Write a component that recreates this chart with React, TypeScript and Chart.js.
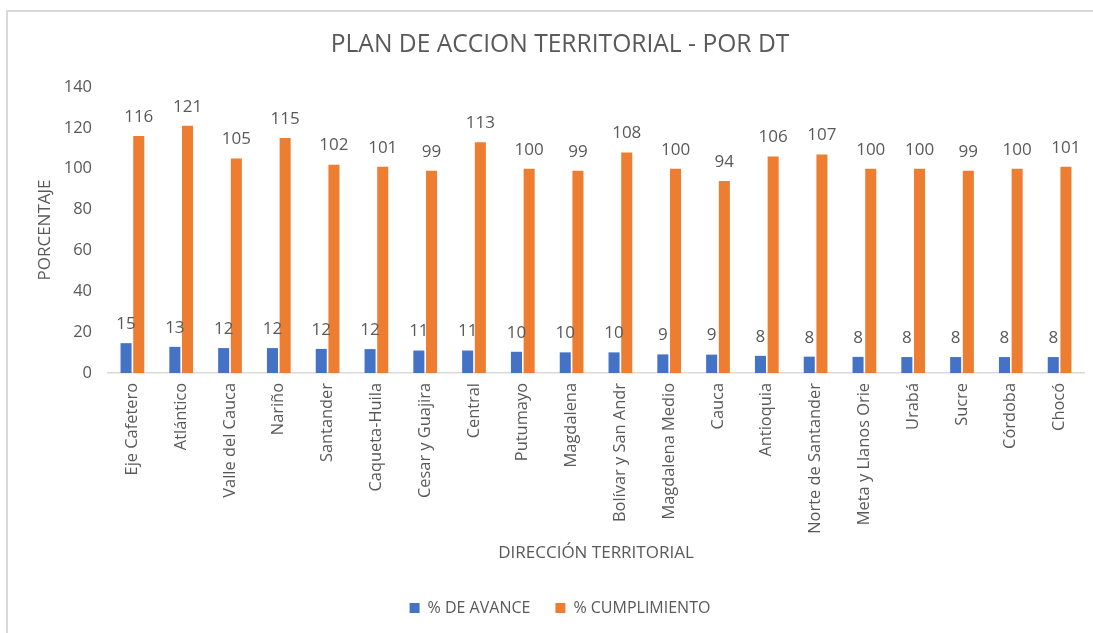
import React, { useEffect, useRef } from "react";
import { Chart, registerables } from "chart.js";

Chart.register(...registerables);

const categories = [
  "Eje Cafetero", "Atlántico", "Valle del Cauca", "Nariño", "Santander",
  "Caqueta-Huila", "Cesar y Guajira", "Central", "Putumayo", "Magdalena",
  "Bolívar y San Andr", "Magdalena Medio", "Cauca", "Antioquia",
  "Norte de Santander", "Meta y Llanos Orie", "Urabá", "Sucre", "Córdoba", "Chocó",
];
const avanceValues = [
  14.6, 12.8, 12.2, 12.2, 11.8, 11.7, 11.0, 11.0, 10.4, 10.1,
  10.1, 9.1, 9.0, 8.4, 8.0, 7.9, 7.8, 7.8, 7.8, 7.8,
];
const cumplimientoValues = [
  116, 121, 105, 115, 102, 101, 99, 113, 100, 99,
  108, 100, 94, 106, 107, 100, 100, 99, 100, 101,
];
const yTicks = [0, 20, 40, 60, 80, 100, 120, 140];

const FONT = "'Open Sans', sans-serif";
const TEXT = "#595959";

const framePlugin = {
  id: "frame",
  beforeDraw(chart: any) {
    const ctx = chart.ctx;
    ctx.save();
    ctx.fillStyle = "#ffffff";
    ctx.fillRect(0, 0, chart.width, chart.height);
    ctx.strokeStyle = "#d9d9d9";
    ctx.lineWidth = 2;
    ctx.strokeRect(7, 11, 3000, 3000);
    ctx.restore();
  },
};

const labelsPlugin = {
  id: "barLabels",
  afterDatasetsDraw(chart: any) {
    const ctx = chart.ctx;
    ctx.save();
    ctx.font = `17px ${FONT}`;
    ctx.fillStyle = TEXT;
    ctx.textAlign = "center";
    ctx.textBaseline = "middle";
    chart.data.datasets.forEach((ds: any, di: number) => {
      const meta = chart.getDatasetMeta(di);
      meta.data.forEach((el: any, i: number) => {
        ctx.fillText(String(Math.round(ds.data[i])), el.x, el.y - 19);
      });
    });
    ctx.restore();
  },
};

export default function App() {
  const ref = useRef<HTMLCanvasElement>(null);
  useEffect(() => {
    if (!ref.current) return;
    const chart = new Chart(ref.current, {
      type: "bar",
      data: {
        labels: categories,
        datasets: [
          {
            label: "% DE AVANCE",
            data: avanceValues,
            backgroundColor: "#4472C4",
            categoryPercentage: 0.52,
            barPercentage: 0.87,
          },
          {
            label: "% CUMPLIMIENTO",
            data: cumplimientoValues,
            backgroundColor: "#ED7D31",
            categoryPercentage: 0.52,
            barPercentage: 0.87,
          },
        ],
      },
      options: {
        responsive: false,
        animation: false,
        layout: { padding: { left: 36, right: 9, top: 0, bottom: 7 } },
        plugins: {
          title: {
            display: true,
            text: "PLAN DE ACCION TERRITORIAL - POR DT",
            color: TEXT,
            font: { family: FONT, size: 24.6, weight: "normal" },
            padding: { top: 30.5, bottom: 27 },
          },
          legend: {
            position: "bottom",
            labels: {
              color: TEXT,
              font: { family: FONT, size: 16 },
              boxWidth: 10,
              boxHeight: 10,
              padding: 25,
            },
          },
          tooltip: { enabled: false },
        },
        scales: {
          x: {
            grid: { display: false, drawTicks: false },
            border: { display: true, color: "#d9d9d9", width: 1.5 },
            ticks: {
              color: TEXT,
              font: { family: FONT, size: 16.4 },
              minRotation: 90,
              maxRotation: 90,
              padding: 10,
              autoSkip: false,
            },
            title: {
              display: true,
              text: "DIRECCIÓN TERRITORIAL",
              color: TEXT,
              font: { family: FONT, size: 17 },
              padding: { top: 0, bottom: 11.8 },
            },
            afterFit(scale: any) {
              scale.height = 202;
            },
          },
          y: {
            min: 0,
            max: 140,
            afterBuildTicks(scale: any) {
              scale.ticks = yTicks.map((v) => ({ value: v }));
            },
            grid: { display: false, drawTicks: false },
            border: { display: false },
            ticks: {
              color: TEXT,
              font: { family: FONT, size: 16.5 },
              padding: 16,
            },
            title: {
              display: true,
              text: "PORCENTAJE",
              color: TEXT,
              font: { family: FONT, size: 17 },
              padding: { top: -1, bottom: 0 },
            },
            afterFit(scale: any) {
              scale.width = 72;
            },
          },
        },
      },
      plugins: [framePlugin, labelsPlugin],
    });
    return () => chart.destroy();
  }, []);
  return (
    <div style={{ position: "fixed", left: 0, top: 0, width: 1093, height: 633, background: "#fff" }}>
      <canvas ref={ref} width={1093} height={633} style={{ display: "block" }} />
    </div>
  );
}
